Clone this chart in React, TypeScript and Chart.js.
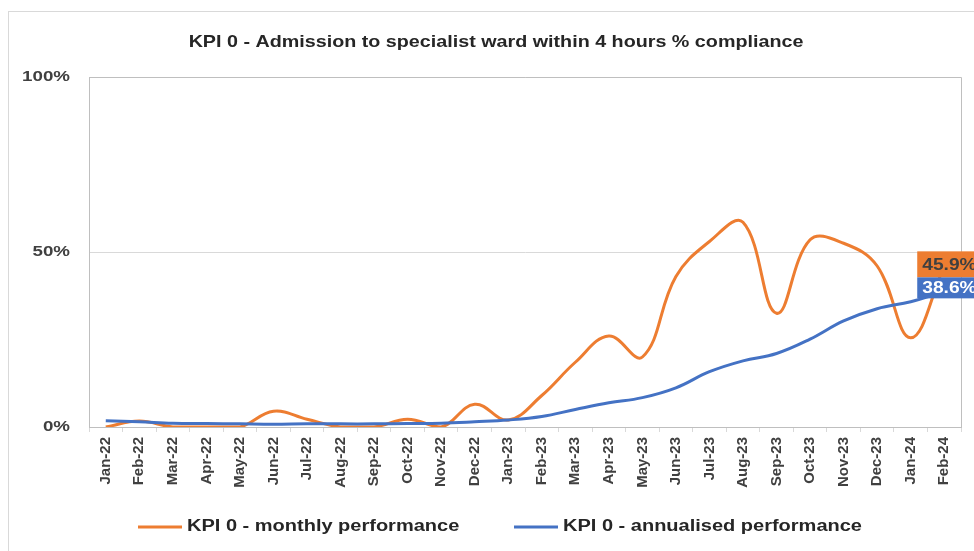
import React, { useEffect, useRef } from "react";
import { Chart, registerables } from "chart.js";

Chart.register(...registerables);

const TITLE = "KPI 0 - Admission to specialist ward within 4 hours % compliance";
const months = [
  "Jan-22", "Feb-22", "Mar-22", "Apr-22", "May-22", "Jun-22", "Jul-22", "Aug-22", "Sep-22",
  "Oct-22", "Nov-22", "Dec-22", "Jan-23", "Feb-23", "Mar-23", "Apr-23", "May-23", "Jun-23",
  "Jul-23", "Aug-23", "Sep-23", "Oct-23", "Nov-23", "Dec-23", "Jan-24", "Feb-24",
];
const monthlyLabel = "KPI 0 - monthly performance";
const annualLabel = "KPI 0 - annualised performance";
const monthly = [
  0, 1.7, 0, 0, 0, 4.5, 2.2, 0, 0, 2.2, 0, 6.5, 2, 9, 18.5, 26, 20, 43, 53, 58.5, 32.5, 53.5,
  52.5, 46, 25.5, 45.9,
];
const annualised = [
  1.8, 1.5, 1.1, 1, 0.9, 0.8, 0.9, 0.9, 0.9, 1, 1.1, 1.5, 2, 3, 5, 6.9, 8.4, 11.2, 15.8, 18.9,
  21, 25.1, 30.3, 33.8, 35.8, 38.6,
];
const yTicks = [0, 50, 100];

const ORANGE = "#ED7D31";
const BLUE = "#4472C4";
const FONT = "'Liberation Sans', Arial, sans-serif";

function stretchText(
  ctx: CanvasRenderingContext2D,
  text: string,
  x: number,
  y: number,
  sx: number,
  align: CanvasTextAlign
) {
  ctx.save();
  ctx.translate(x, y);
  ctx.scale(sx, 1);
  ctx.textAlign = align;
  ctx.fillText(text, 0, 0);
  ctx.restore();
}

const decorPlugin = {
  id: "decor",
  beforeDraw(chart: any) {
    const { ctx, width, height } = chart;
    ctx.save();
    ctx.fillStyle = "#ffffff";
    ctx.fillRect(0, 0, width, height);
    ctx.strokeStyle = "#d9d9d9";
    ctx.lineWidth = 1;
    ctx.strokeRect(8.5, 11.5, width + 20, height + 20);
    ctx.fillStyle = "#262626";
    ctx.font = `bold 17px ${FONT}`;
    ctx.textBaseline = "middle";
    stretchText(ctx, TITLE, 496, 42, 1.16, "center");
    ctx.restore();
  },
  afterDraw(chart: any) {
    const { ctx, chartArea } = chart;
    const yScale = chart.scales.y;
    ctx.save();
    // plot area frame
    ctx.strokeStyle = "#bfbfbf";
    ctx.lineWidth = 1;
    ctx.beginPath();
    ctx.moveTo(chartArea.left, chartArea.top + 0.5);
    ctx.lineTo(chartArea.right + 0.5, chartArea.top + 0.5);
    ctx.lineTo(chartArea.right + 0.5, chartArea.bottom);
    ctx.stroke();

    // y tick labels
    ctx.fillStyle = "#404040";
    ctx.font = `bold 15px ${FONT}`;
    ctx.textBaseline = "middle";
    yTicks.forEach((v) => {
      stretchText(ctx, v + "%", 70, yScale.getPixelForValue(v), 1.25, "right");
    });

    // end value labels
    const metaO = chart.getDatasetMeta(0);
    const metaB = chart.getDatasetMeta(1);
    const pO = metaO.data[metaO.data.length - 1];
    const pB = metaB.data[metaB.data.length - 1];
    const oVal = monthly[monthly.length - 1];
    const bVal = annualised[annualised.length - 1];
    ctx.font = `bold 16px ${FONT}`;
    const oTop = pO.y - 15;
    ctx.fillStyle = ORANGE;
    ctx.fillRect(pO.x - 27, oTop, 70, 26);
    ctx.fillStyle = "#404040";
    stretchText(ctx, oVal.toFixed(1) + "%", pO.x - 22, oTop + 14, 1.2, "left");
    const bTop = Math.max(oTop + 26, pB.y - 15);
    ctx.fillStyle = BLUE;
    ctx.fillRect(pB.x - 27, bTop, 70, 21);
    ctx.fillStyle = "#ffffff";
    stretchText(ctx, bVal.toFixed(1) + "%", pB.x - 22, bTop + 11, 1.2, "left");

    // legend
    const items = [
      { label: monthlyLabel, color: ORANGE, x: 138 },
      { label: annualLabel, color: BLUE, x: 514 },
    ];
    const ly = 527;
    ctx.font = `bold 16px ${FONT}`;
    items.forEach((it) => {
      ctx.strokeStyle = it.color;
      ctx.lineWidth = 3;
      ctx.beginPath();
      ctx.moveTo(it.x, ly);
      ctx.lineTo(it.x + 44, ly);
      ctx.stroke();
      ctx.fillStyle = "#262626";
      stretchText(ctx, it.label, it.x + 49, ly, 1.25, "left");
    });
    ctx.restore();
  },
};

export default function App() {
  const ref = useRef<HTMLCanvasElement | null>(null);
  useEffect(() => {
    if (!ref.current) return;
    const chart = new Chart(ref.current, {
      type: "line",
      data: {
        labels: months,
        datasets: [
          {
            label: monthlyLabel,
            data: monthly,
            borderColor: ORANGE,
            backgroundColor: ORANGE,
            borderWidth: 3,
            pointRadius: 0,
            tension: 0.4,
            order: 1,
          },
          {
            label: annualLabel,
            data: annualised,
            borderColor: BLUE,
            backgroundColor: BLUE,
            borderWidth: 3,
            pointRadius: 0,
            tension: 0.4,
            order: 0,
          },
        ],
      },
      options: {
        responsive: false,
        animation: false,
        devicePixelRatio: 1,
        layout: { padding: { left: 0, top: 77, right: 13, bottom: 0 } },
        plugins: {
          legend: { display: false },
          title: { display: false },
          tooltip: { enabled: false },
        },
        scales: {
          x: {
            type: "category",
            offset: true,
            grid: {
              offset: true,
              drawOnChartArea: false,
              drawTicks: true,
              tickLength: 5,
              color: "#d9d9d9",
            },
            border: { display: true, color: "#bfbfbf" },
            ticks: {
              minRotation: 90,
              maxRotation: 90,
              autoSkip: false,
              padding: 5,
              color: "#404040",
              font: { family: FONT, size: 15, weight: "bold" },
            },
            afterFit: (s: any) => {
              s.height = 124;
            },
          },
          y: {
            min: 0,
            max: 100,
            afterBuildTicks: (s: any) => {
              s.ticks = yTicks.map((v) => ({ value: v }));
            },
            grid: { color: "#d9d9d9", drawTicks: false },
            border: { display: true, color: "#bfbfbf" },
            ticks: { display: false },
            afterFit: (s: any) => {
              s.width = 89;
            },
          },
        },
      },
      plugins: [decorPlugin],
    });
    return () => chart.destroy();
  }, []);
  return (
    <div style={{ position: "fixed", left: 0, top: 0, width: 974, height: 551, background: "#fff" }}>
      <canvas ref={ref} width={974} height={551} />
    </div>
  );
}
